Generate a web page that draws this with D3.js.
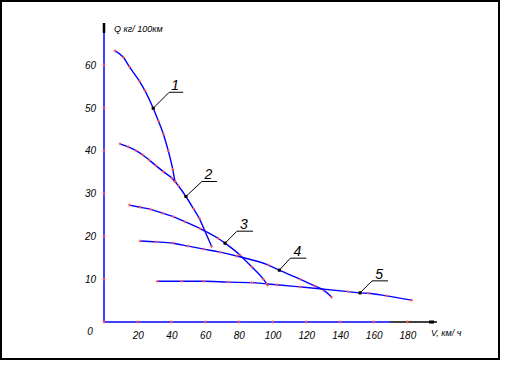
<!DOCTYPE html>
<html><head><meta charset="utf-8">
<script src="https://cdn.jsdelivr.net/npm/d3@7"></script>
<style>
html,body{margin:0;padding:0;background:#fff;}
svg{display:block;}
text{font-family:"Liberation Sans",Arial,sans-serif;}
</style></head>
<body>
<svg id="chart" width="505" height="365"></svg>
<script>
// ---- data ----
const xTicks = [20, 40, 60, 80, 100, 120, 140, 160, 180];
const yTicks = [10, 20, 30, 40, 50, 60];
const xTitle = "V, км/ ч";
const yTitle = "Q кг/ 100км";
const seriesNames = ["1", "2", "3", "4", "5"];
const curve1V = [6.5, 11.5, 15.0, 20.9, 24.3, 29.2, 32.2, 35.2, 38.1, 40.8, 42.1];
const curve1Q = [63.3, 61.8, 59.6, 56.3, 54.0, 49.9, 47.0, 43.9, 40.0, 35.6, 32.8];
const curve2V = [9.5, 14.4, 19.0, 23.0, 26.9, 30.8, 35.2, 40.2, 42.1, 44.1, 48.6, 53.0, 56.5, 59.9, 63.9];
const curve2Q = [41.6, 40.9, 40.0, 39.0, 37.8, 36.5, 35.1, 33.6, 32.8, 31.8, 29.3, 26.5, 24.2, 21.2, 17.6];
const curve3V = [15.0, 21.4, 27.7, 34.8, 41.1, 48.1, 57.0, 67.8, 71.8, 80.7, 87.6, 94.5, 97.1];
const curve3Q = [27.3, 26.8, 26.3, 25.4, 24.6, 23.4, 21.8, 19.5, 18.4, 15.6, 12.9, 10.0, 8.6];
const curve4V = [21.4, 30.8, 40.8, 50.0, 59.3, 68.8, 78.7, 97.5, 104.0, 116.3, 125.2, 130.1, 135.1];
const curve4Q = [18.9, 18.7, 18.4, 17.7, 17.0, 16.3, 15.4, 13.3, 12.1, 10.0, 8.4, 7.5, 5.8];
const curve5V = [31.6, 46.1, 59.3, 73.7, 87.6, 96.5, 102.5, 116.3, 144.9, 151.9, 156.8, 167.7, 182.5];
const curve5Q = [9.5, 9.5, 9.5, 9.3, 9.2, 8.9, 8.7, 8.2, 7.1, 6.8, 6.7, 6.1, 5.1];
// index of the point each numbered label points to
const labelIndex = [5, 10, 8, 8, 9];

const allV = [curve1V, curve2V, curve3V, curve4V, curve5V];
const allQ = [curve1Q, curve2Q, curve3Q, curve4Q, curve5Q];

// ---- layout ----
const svg = d3.select("#chart");
const x = d3.scaleLinear().domain([0, 180]).range([104, 407.4]);
const y = d3.scaleLinear().domain([0, 60]).range([322, 65]);
const blue = "#0000ff", pink = "#ff5a5a";

// frame
svg.append("rect").attr("x", 1).attr("y", 1).attr("width", 498).attr("height", 358)
  .attr("fill", "none").attr("stroke", "#000").attr("stroke-width", 2);

// axes lines
const x0 = x(0), y0 = y(0);
svg.append("line").attr("x1", x0).attr("x2", 390).attr("y1", y0).attr("y2", y0)
  .attr("stroke", blue).attr("stroke-width", 1.5);
svg.append("line").attr("x1", 390).attr("x2", 437).attr("y1", y0).attr("y2", y0)
  .attr("stroke", "#000").attr("stroke-width", 1.5);
svg.append("rect").attr("x", 429).attr("y", y0 - 1.5).attr("width", 5).attr("height", 3).attr("fill", "#000");
svg.append("line").attr("x1", x0).attr("x2", x0).attr("y1", y0).attr("y2", 33)
  .attr("stroke", blue).attr("stroke-width", 1.5);
svg.append("line").attr("x1", x0).attr("x2", x0).attr("y1", 33).attr("y2", 23)
  .attr("stroke", "#000").attr("stroke-width", 2.5);

// tick labels via d3 axes
const xAxis = svg.append("g").attr("transform", `translate(0,${y0})`)
  .call(d3.axisBottom(x).tickValues(xTicks).tickSize(0).tickPadding(10));
const yAxis = svg.append("g").attr("transform", `translate(${x0},0)`)
  .call(d3.axisLeft(y).tickValues(yTicks).tickSize(0).tickPadding(8));
[xAxis, yAxis].forEach(g => {
  g.select(".domain").remove();
  g.selectAll("text").attr("font-size", 10).attr("font-style", "italic")
    .attr("fill", "#000").attr("font-family", "'Liberation Sans', Arial, sans-serif");
});
svg.append("text").attr("x", 90).attr("y", 335).attr("text-anchor", "middle")
  .attr("font-size", 10).attr("font-style", "italic").text("0");

// axis tick markers (small pink crosses)
function cross(cx, cy) {
  svg.append("path").attr("d", `M${cx - 1.5},${cy}H${cx + 1.5}M${cx},${cy - 1.5}V${cy + 1.5}`)
    .attr("stroke", pink).attr("stroke-width", 1);
}
cross(x0, y0);
xTicks.forEach(t => cross(x(t), y0));
yTicks.forEach(t => cross(x0, y(t)));

// titles
svg.append("text").attr("x", 114).attr("y", 32).attr("font-size", 9).attr("font-style", "italic")
  .attr("fill", "#000").text(yTitle);
svg.append("text").attr("x", 431).attr("y", 336).attr("font-size", 9).attr("font-style", "italic")
  .attr("fill", "#000").text(xTitle);

// curves
const line = d3.line().curve(d3.curveMonotoneX).x(d => x(d[0])).y(d => y(d[1]));
const labelOffsets = [[16, -16, 14], [16, -15, 15], [12, -12, 16], [11, -12, 16], [12, -12, 16]];
allV.forEach((vs, i) => {
  const pts = vs.map((v, j) => [v, allQ[i][j]]);
  svg.append("path").datum(pts).attr("d", line).attr("fill", "none")
    .attr("stroke", blue).attr("stroke-width", 1.4);
  pts.forEach(p => cross(x(p[0]), y(p[1])));
  const lp = pts[labelIndex[i]];
  const px = x(lp[0]), py = y(lp[1]);
  const [dx, dy, hw] = labelOffsets[i];
  svg.append("path").attr("d", `M${px},${py}L${px + dx},${py + dy}H${px + dx + hw}`)
    .attr("fill", "none").attr("stroke", "#000").attr("stroke-width", 1);
  svg.append("rect").attr("x", px - 1.5).attr("y", py - 1.5).attr("width", 3).attr("height", 3).attr("fill", "#000");
  svg.append("text").attr("x", px + dx + hw / 2 - 1).attr("y", py + dy - 2)
    .attr("text-anchor", "middle").attr("font-size", 14).attr("font-style", "italic")
    .attr("fill", "#000").text(seriesNames[i]);
});
</script>
</body></html>
